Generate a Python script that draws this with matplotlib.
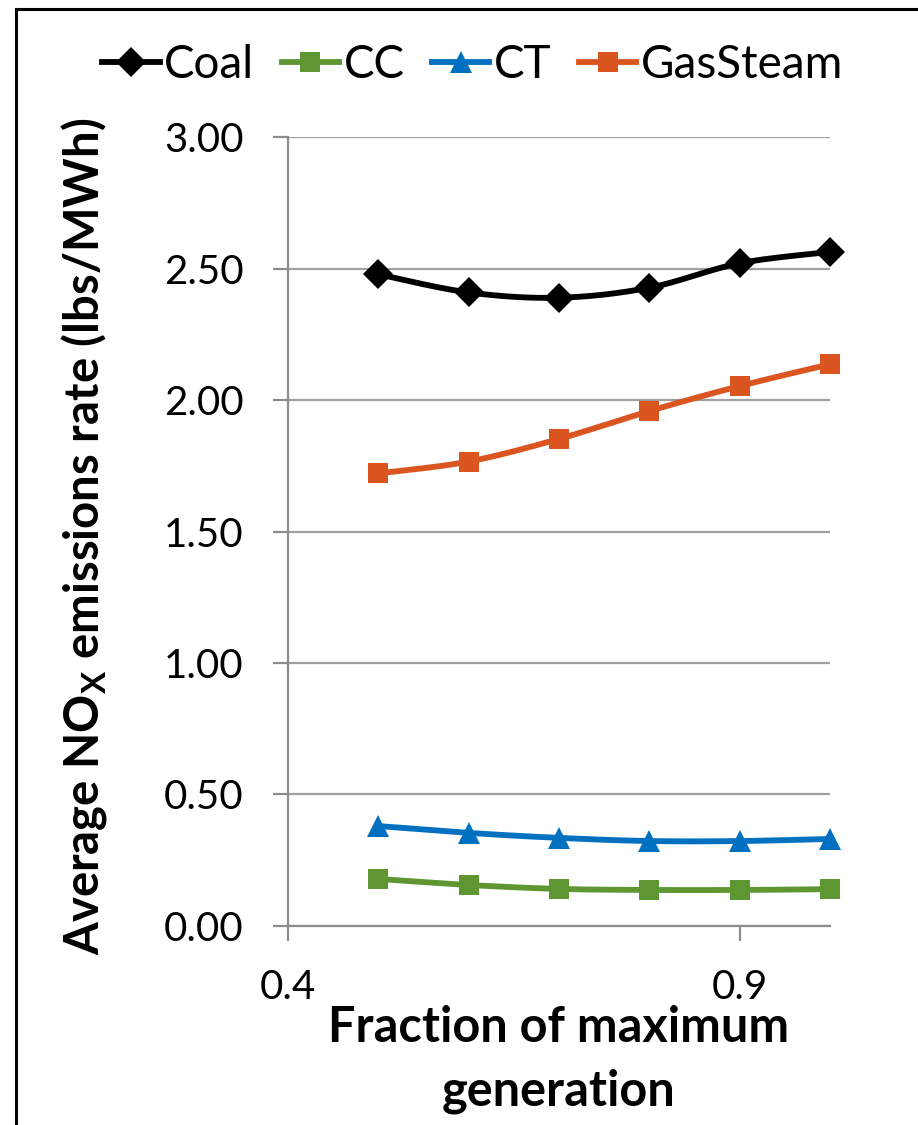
import numpy as np
import matplotlib
matplotlib.use("Agg")
import matplotlib.pyplot as plt
from matplotlib.lines import Line2D

plt.rcParams['font.family'] = ['Lato', 'DejaVu Sans']
plt.rcParams['mathtext.fontset'] = 'custom'
plt.rcParams['mathtext.rm'] = 'Lato'
plt.rcParams['mathtext.bf'] = 'Lato:bold'

# fraction of maximum generation
fraction = [0.5, 0.6, 0.7, 0.8, 0.9, 1.0]

coal = [2.478, 2.409, 2.389, 2.427, 2.520, 2.563]
cc = [0.179, 0.156, 0.141, 0.137, 0.137, 0.140]
ct = [0.380, 0.354, 0.335, 0.323, 0.323, 0.331]
gas_steam = [1.721, 1.766, 1.852, 1.958, 2.053, 2.136]

series_names = ['Coal', 'CC', 'CT', 'GasSteam']
series_values = [coal, cc, ct, gas_steam]
colors = ['#000000', '#5E9732', '#0070C0', '#DA5520']
markers = ['D', 's', '^', 's']
marker_sizes = [15, 15, 16, 15]

y_ticks = [0.0, 0.5, 1.0, 1.5, 2.0, 2.5, 3.0]
x_ticks = [0.4, 0.9]


def smooth_curve(x, y, steps=30):
    """Catmull-Rom style bezier curve through the points (like a smoothed line chart)."""
    pts = np.column_stack([x, y]).astype(float)
    padded = np.vstack([pts[0], pts, pts[-1]])
    out = []
    t = np.linspace(0, 1, steps)[:, None]
    for i in range(1, len(padded) - 2):
        p0, p1, p2, p3 = padded[i - 1], padded[i], padded[i + 1], padded[i + 2]
        c1 = p1 + (p2 - p0) / 6.0
        c2 = p2 - (p3 - p1) / 6.0
        seg = ((1 - t) ** 3) * p1 + 3 * ((1 - t) ** 2) * t * c1 + 3 * (1 - t) * t ** 2 * c2 + t ** 3 * p2
        out.append(seg if i == 1 else seg[1:])
    out = np.vstack(out)
    return out[:, 0], out[:, 1]


fig = plt.figure(figsize=(9.18, 11.25), dpi=100)
ax = fig.add_axes([0.3137, 0.1769, 0.5904, 0.7013])

for name, vals, col, mk, ms in zip(series_names, series_values, colors, markers, marker_sizes):
    sx, sy = smooth_curve(fraction, vals)
    ax.plot(sx, sy, color=col, lw=4.2, solid_capstyle='round', zorder=3, clip_on=False)
    ax.plot(fraction, vals, linestyle='none', marker=mk, markersize=ms,
            color=col, markeredgewidth=0, zorder=4, clip_on=False)

ax.set_xlim(0.4, 1.0)
ax.set_ylim(0, 3.0)
ax.set_xticks(x_ticks)
ax.set_xticklabels(['0.4', '0.9'])
ax.set_yticks(y_ticks)
ax.set_yticklabels([f'{v:.2f}' for v in y_ticks])

grid_col = '#A0A0A0'
ax.yaxis.grid(True, color=grid_col, lw=1.6, zorder=0)
ax.set_axisbelow(True)
for side in ['top', 'right']:
    ax.spines[side].set_visible(False)
for side in ['left', 'bottom']:
    ax.spines[side].set_color('#8C8C8C')
    ax.spines[side].set_linewidth(1.6)

ax.tick_params(axis='both', direction='out', color='#8C8C8C', width=1.6,
               length=11, labelsize=29)
ax.tick_params(axis='y', pad=21)
ax.tick_params(axis='x', pad=20)

ax.set_ylabel(r'Average NO$_{\mathbf{X}}$ emissions rate (lbs/MWh)',
              fontsize=34, fontweight='bold')
ax.yaxis.set_label_coords(-0.33, 0.494)
ax.set_xlabel('Fraction of maximum\ngeneration', fontsize=35,
              fontweight='bold', linespacing=1.5)
ax.xaxis.set_label_coords(0.5, -0.1)
ax.xaxis.label.set_va('top')

handles = [Line2D([0], [0], color=c, lw=4.2, marker=m, markersize=ms, markeredgewidth=0)
           for c, m, ms in zip(colors, markers, marker_sizes)]
fig.legend(handles, series_names, loc='center', bbox_to_anchor=(0.515, 0.942),
           ncol=4, frameon=False, fontsize=33, handlelength=1.25,
           handletextpad=0.1, columnspacing=0.6)

# outer frame (top and left edges)
fx = 16 / 918
fy = 1 - 9 / 1125
fig.add_artist(Line2D([fx, 1.0], [fy, fy], color='black', lw=2.2, transform=fig.transFigure))
fig.add_artist(Line2D([fx, fx], [fy, 0.0], color='black', lw=2.2, transform=fig.transFigure))

fig.savefig('out.png', dpi=100)
